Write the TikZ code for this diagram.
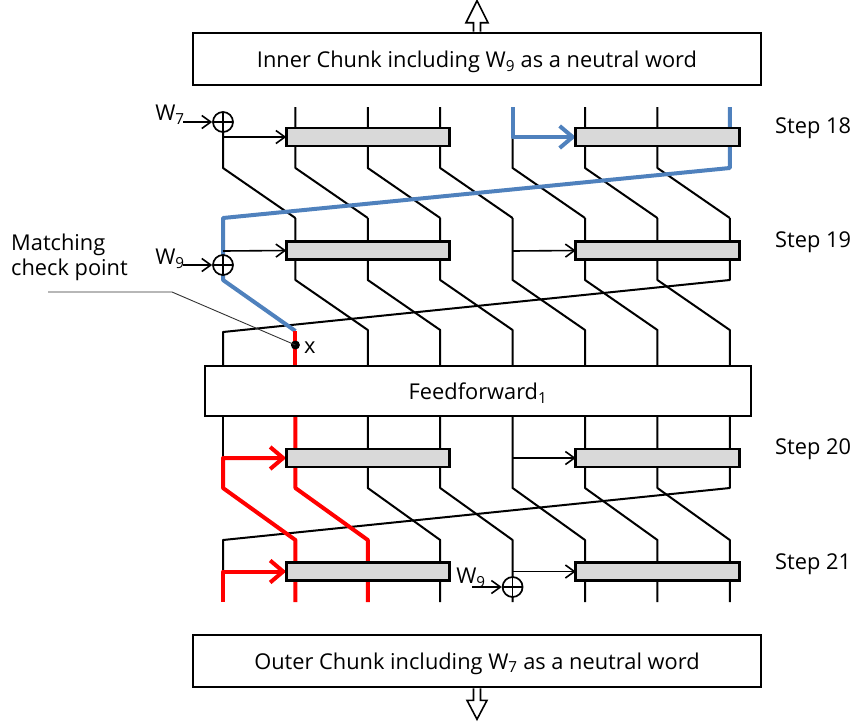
\documentclass[tikz,border=0pt]{standalone}
\usepackage{fontspec}
\setmainfont{Open Sans}
\usetikzlibrary{arrows.meta}

\definecolor{pathblue}{RGB}{79,129,189}
\definecolor{pathred}{RGB}{255,0,0}
\definecolor{boxgrey}{RGB}{217,217,217}

\begin{document}
\begin{tikzpicture}[x=1pt,y=-1pt,
  wire/.style={line width=2pt, line join=round},
  bluewire/.style={pathblue, line width=4pt, line join=round},
  redwire/.style={pathred, line width=4pt, line join=round},
  feed/.style={-{Straight Barb[length=9pt,width=13pt]}, line width=1.6pt},
  bigtip/.style={{Straight Barb[length=13pt,width=22pt]}-},
  gbox/.style={draw, line width=2.6pt, fill=boxgrey, minimum width=163.5pt,
    minimum height=18pt, inner sep=0pt, outer sep=0pt},
  chunk/.style={draw, line width=2.6pt, fill=white, minimum width=568pt,
    minimum height=52pt, inner sep=0pt},
  lbl/.style={font=\fontsize{21.8}{26}\selectfont, inner sep=0pt, yshift=-2.5pt},
  xor/.style={circle, draw, fill=white, line width=1.7pt, minimum size=20pt,
    inner sep=0pt, path picture={\draw[line width=1.7pt]
      (path picture bounding box.north) -- (path picture bounding box.south)
      (path picture bounding box.west) -- (path picture bounding box.east);}},
  hollow/.style={draw, line width=1.6pt, fill=white, line join=miter},
]
\useasboundingbox (0,0) rectangle (853,721);

% x positions of the eight state words
\def\cA{223}\def\cB{295.4}\def\cC{367.8}\def\cD{440.2}
\def\cE{512.6}\def\cF{585}\def\cG{657.4}\def\cH{729.8}

% ---------- chunk boxes with their hollow arrows ----------
\node[chunk] (inner) at (477,59) {};
\node[lbl] (innertxt) at (inner.center) {Inner Chunk including W\textsubscript{9} as a neutral word};
\node[chunk] (outer) at (477,661) {};
\node[lbl] (outertxt) at (outer.center) {Outer Chunk including W\textsubscript{7} as a neutral word};
\draw[hollow, shift={(inner.north)}]
  (-3.5,0) -- (-3.5,-9) -- (-11,-9) -- (0,-31) -- (11,-9) -- (3.5,-9) -- (3.5,0);
\draw[hollow, shift={(outer.south)}]
  (-3.5,0) -- (-3.5,12) -- (-10,12) -- (0,31) -- (10,12) -- (3.5,12) -- (3.5,0);

% ---------- step 18 -> step 19 ----------
\foreach \a/\b in {\cB/\cC,\cC/\cD,\cD/\cE,\cF/\cG,\cG/\cH}
  \draw[wire] (\a,107) -- (\a,168) -- (\b,218);
\draw[wire] (\cA,132) -- (\cA,168) -- (\cB,218);
\draw[wire] (\cE,137) -- (\cE,168) -- (\cF,218);

% ---------- step 19 -> feedforward ----------
\foreach \a/\b in {\cB/\cC,\cC/\cD,\cD/\cE,\cE/\cF,\cF/\cG,\cG/\cH}
  \draw[wire] (\a,218) -- (\a,280) -- (\b,330) -- (\b,365);
\draw[wire] (\cH,218) -- (\cH,280) -- (\cA,332) -- (\cA,365);

% ---------- feedforward -> step 21 ----------
\foreach \a/\b in {\cC/\cD,\cD/\cE,\cE/\cF,\cF/\cG,\cG/\cH}
  \draw[wire] (\a,417) -- (\a,488) -- (\b,540) -- (\b,602);
\draw[wire] (\cA,417) -- (\cA,458);
\draw[wire] (\cH,417) -- (\cH,488) -- (\cA,540) -- (\cA,571.5);

% ---------- step boxes ----------
\foreach \s/\y in {18/137,19/250.5,20/458,21/571.5}{
  \node[gbox] (L\s) at (368,\y) {};
  \node[gbox] (R\s) at (657.5,\y) {};
}

% ---------- highlighted paths ----------
\draw[bluewire, bigtip] (R18.west) -- (\cE,137) -- (\cE,107);
\draw[bluewire] (\cH,107) -- (\cH,168) -- (\cA,218) -- (\cA,280) -- (\cB,331);
\draw[redwire] (\cB,331) -- (\cB,365);
\draw[redwire] (\cB,417) -- (\cB,488) -- (\cC,540) -- (\cC,602);
\draw[redwire, bigtip] (L20.west) -- (\cA,458) -- (\cA,488) -- (\cB,540) -- (\cB,602);
\draw[redwire, bigtip] (L21.west) -- (\cA,571.5) -- (\cA,602);

% re-draw the boxes crossed by the coloured paths
\node[gbox] at (L18) {}; \node[gbox] at (R18) {};
\node[gbox] at (L20) {}; \node[gbox] at (L21) {};

% ---------- feedforward box ----------
\node[chunk, minimum width=546pt, minimum height=50pt] (ff) at (478,391) {};
\node[lbl] (fftxt) at (ff.center) {Feedforward\textsubscript{1}};

% ---------- branches into the step functions ----------
\draw[feed] (\cA,137) -- (L18.west);
\draw[feed] (\cA,251) -- (L19.west);
\draw[feed] (\cE,251) -- (R19.west);
\draw[feed] (\cE,458) -- (R20.west);
\draw[feed] (\cE,571.5) -- (R21.west);

% ---------- message word additions ----------
\node[xor] (x18) at (\cA,122) {};
\node[xor] (x19) at (\cA,265) {};
\node[xor] (x21) at (\cE,587) {};
\node[lbl] (w7) at (170,112) {W\textsubscript{7}};
\node[lbl] (w9a) at (170,256) {W\textsubscript{9}};
\node[lbl] (w9b) at (471,575) {W\textsubscript{9}};
\coordinate (w7in) at (183,122);
\coordinate (w9ain) at (183,265);
\coordinate (w9bin) at (472,587);
\draw[feed] (w7in) -- (x18.west);
\draw[feed] (w9ain) -- (x19.west);
\draw[feed] (w9bin) -- (x21.west);

% ---------- matching check point ----------
\node[circle, fill=black, minimum size=9pt, inner sep=0pt] (xp) at (\cB,345) {};
\node[lbl, anchor=west] (xlbl) at (304,345) {x};
\node[lbl, align=left, anchor=west, font=\fontsize{21.8}{25}\selectfont] (mcp) at (11,254.5) {Matching\\check point};
\coordinate (lead) at (48,292);
\draw[line width=0.9pt, black!80] (lead) -- (172,292) -- (xp.center);

% ---------- step labels ----------
\node[lbl, anchor=west] (s18) at (775,126) {Step 18};
\node[lbl, anchor=west] (s19) at (775,240) {Step 19};
\node[lbl, anchor=west] (s20) at (775,447) {Step 20};
\node[lbl, anchor=west] (s21) at (775,562) {Step 21};
\end{tikzpicture}
\end{document}
